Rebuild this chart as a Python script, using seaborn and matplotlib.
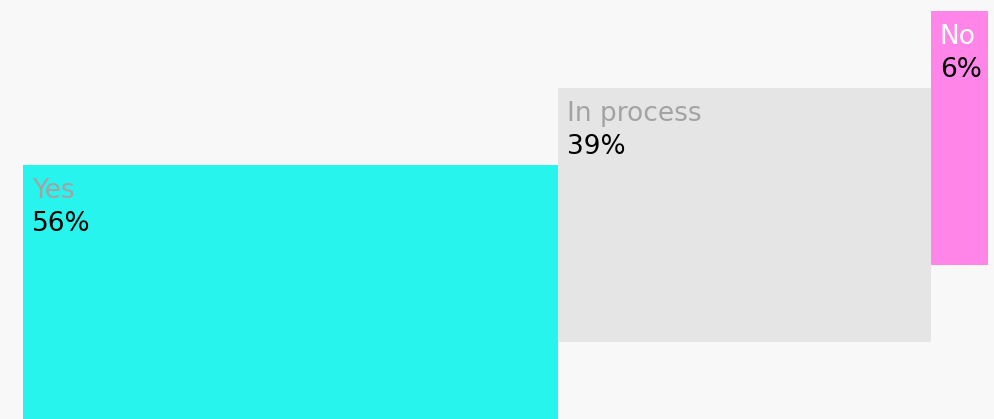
import numpy as np
import matplotlib
matplotlib.use("Agg")
import matplotlib.pyplot as plt
import seaborn as sns

# Survey answers and their shares (%)
categories = ["Yes", "In process", "No"]
shares = [56, 39, 6]
label_colors = ["#a3a3a3", "#a3a3a3", "#ffffff"]
bar_colors = ["#28f4ee", "#e5e5e5", "#ff85e8"]

sns.set_theme(style="white")
plt.rcParams["font.family"] = ["DejaVu Sans"]

W, H, DPI = 995, 419, 100
fig = plt.figure(figsize=(W / DPI, H / DPI), dpi=DPI, facecolor="#f8f8f8")
ax = fig.add_axes([0, 0, 1, 1])
ax.set_facecolor("#f8f8f8")

# Bars are as wide as their share and placed side by side, each one
# raised a step above the previous one.
bar_h = 1.0
step = 0.303
lefts = np.concatenate([[0], np.cumsum(shares)[:-1]])
bottoms = np.arange(len(shares)) * step

ax.bar(lefts, bar_h, width=shares, bottom=bottoms, align="edge",
       color=bar_colors, edgecolor="none", linewidth=0)

total = float(sum(shares))
px_per_unit = (988 - 23) / total
ax.set_xlim(-23 / px_per_unit, total + (W - 988) / px_per_unit)
ax.set_ylim(0, H / 254.0)
ax.axis("off")

for left, bottom, cat, val, lc in zip(lefts, bottoms, categories, shares, label_colors):
    top = bottom + bar_h
    ax.annotate(cat, xy=(left, top), xytext=(9, -33), textcoords="offset pixels",
                ha="left", va="baseline", fontsize=19, color=lc)
    ax.annotate(f"{val}%", xy=(left, top), xytext=(9, -66), textcoords="offset pixels",
                ha="left", va="baseline", fontsize=19, color="#000000")

fig.savefig("out.png", dpi=DPI, facecolor=fig.get_facecolor())
